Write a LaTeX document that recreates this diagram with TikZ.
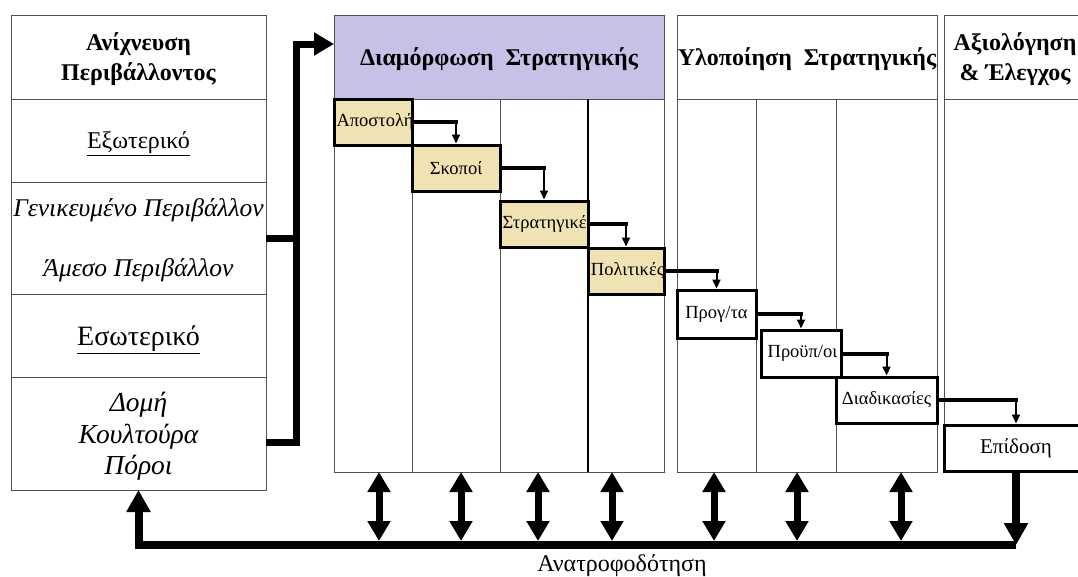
\documentclass[tikz,border=0pt]{standalone}
\usepackage{fontspec}
\setmainfont{Liberation Serif}
\usetikzlibrary{arrows.meta,positioning}
\definecolor{lilac}{RGB}{200,192,230}
\definecolor{sand}{RGB}{239,227,180}
\definecolor{frame}{RGB}{80,80,80}

\begin{document}
\begin{tikzpicture}[x=1pt,y=-1pt,
  cell/.style={draw=frame,line width=1pt,outer sep=0pt,minimum width=255pt,align=center,inner sep=0pt,text depth=-4pt},
  head/.style={draw=frame,line width=1pt,outer sep=0pt,minimum height=84pt,align=center,inner sep=0pt,text depth=-2pt,font=\fontsize{24}{30}\selectfont\bfseries},
  stairs/.style={draw,line width=3pt,fill=sand,minimum height=46pt,inner sep=0pt,font=\fontsize{18.5}{20}\selectfont},
  cut/.style={path picture={\node[anchor=west,inner sep=1pt,font=\fontsize{18.5}{20}\selectfont] at (path picture bounding box.west) {#1};}},
  link/.style={line width=4pt,line cap=rect},
  drop/.style={line width=2pt,-{Triangle[length=9pt,width=8pt]}},
  pipe/.style={line width=7pt},
  both/.style={line width=7pt,{Triangle[length=20pt,width=22pt]}-{Triangle[length=20pt,width=22pt]}},
  feed/.style={line width=8pt,-{Triangle[length=22pt,width=23pt]}}]
\clip (0,0) rectangle (1078,576);

% environment scanning
\node[cell,minimum height=84pt,text depth=-2pt,font=\fontsize{24}{30}\selectfont\bfseries] (env) at (138.5,57) {Ανίχνευση\\Περιβάλλοντος};
\node[cell,minimum height=83pt,below=0pt of env,font=\fontsize{24}{26}\selectfont] (ext) {\underline{Εξωτερικό}};
\node[cell,minimum height=112pt,below=0pt of ext,font=\fontsize{25.5}{60}\selectfont\itshape] (gen) {Γενικευμένο Περιβάλλον\\Άμεσο Περιβάλλον};
\node[cell,minimum height=83pt,below=0pt of gen,font=\fontsize{28}{30}\selectfont] (int) {\underline{Εσωτερικό}};
\node[cell,minimum height=113pt,below=0pt of int,font=\fontsize{27.5}{31.5}\selectfont\itshape] (res) {Δομή\\Κουλτούρα\\Πόροι};

% phase headers
\node[head,fill=lilac,minimum width=330pt] (form) at (499,57) {Διαμόρφωση\ \ Στρατηγικής};
\node[head,minimum width=260pt] (impl) at (807,57) {Υλοποίηση\ \ Στρατηγικής};
\node[head,minimum width=142pt] (eval) at (1015,57) {Αξιολόγηση\\\& Έλεγχος};

% columns
\draw[frame,line width=1pt] (form.south west) rectangle (664,472);
\draw[frame,line width=1pt] (412,99) -- (412,472) (500,99) -- (500,472);
\draw[line width=1.5pt] (588,99) -- (588,472);
\draw[frame,line width=1pt] (impl.south west) rectangle (937,472);
\draw[frame,line width=1pt] (756,99) -- (756,472) (836,99) -- (836,472);
\draw[frame,line width=1pt] (eval.south west) -- (944,425);

% staircase
\node[stairs,minimum width=78pt,cut=Αποστολή] (apo) at (373,122) {};
\node[stairs,minimum width=88pt] (sko) at (456,168) {Σκοποί};
\node[stairs,minimum width=88pt,cut=Στρατηγικές] (str) at (544,224) {};
\node[stairs,minimum width=76pt,cut=Πολιτικές] (pol) at (626,271) {};
\node[stairs,fill=white,minimum width=79pt,minimum height=48pt] (prg) at (716.5,314) {Προγ/τα};
\node[stairs,fill=white,minimum width=80pt,minimum height=47pt,cut=Προϋπ/οι] (prb) at (801,353.5) {};
\node[stairs,fill=white,minimum width=101pt] (dia) at (886.5,400) {Διαδικασίες};
\node[stairs,fill=white,minimum width=144pt,font=\fontsize{21}{23}\selectfont] (epi) at (1016,448) {Επίδοση};

\foreach \a/\b in {apo/sko,sko/str,str/pol,pol/prg,prg/prb,prb/dia,dia/epi}
{
  \draw[link] (\a.east) -- (\a.east -| \b.north);
  \draw[drop] (\a.east -| \b.north) -- (\b.north);
}

% into formulation
\draw[pipe] (gen.east) -- ++(30,0);
\draw[pipe,-{Triangle[length=20pt,width=22pt]}] ([yshift=-9pt]res.east) -- ++(30,0) |- ([yshift=13pt]form.west);

% feedback
\foreach \x [count=\i] in {379,461,538,612,714,797,901}
{
  \coordinate (up\i) at (\x,472);
  \coordinate (dn\i) at (\x,541);
  \draw[both] (up\i) -- (dn\i);
}
\coordinate (fbr) at (epi.south |- 0,545);
\coordinate (fbl) at (res.south |- 0,545);
\draw[feed] (fbr) -- (fbl) -- (res.south);
\draw[feed] (epi.south) -- (fbr);
\node[font=\fontsize{24}{26}\selectfont] (fbtxt) at (622,566) {Ανατροφοδότηση};
\end{tikzpicture}
\end{document}
